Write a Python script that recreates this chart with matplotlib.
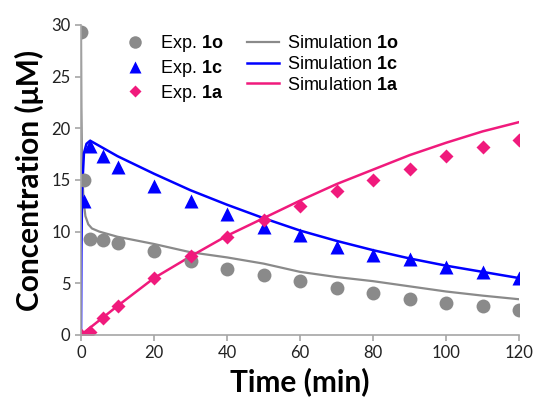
import numpy as np
import matplotlib.pyplot as plt

plt.rcParams['mathtext.fontset'] = 'custom'
plt.rcParams['mathtext.bf'] = 'Liberation Sans:bold'
plt.rcParams['mathtext.rm'] = 'Liberation Sans'

# experimental data
t_1o = [0, 0.7, 2.5, 6, 10, 20, 30, 40, 50, 60, 70, 80, 90, 100, 110, 120]
c_1o = [29.3, 15.0, 9.3, 9.2, 8.9, 8.1, 7.2, 6.4, 5.75, 5.2, 4.5, 4.1, 3.45, 3.1, 2.8, 2.4]

t_1c = [0, 0.7, 2.5, 6, 10, 20, 30, 40, 50, 60, 70, 80, 90, 100, 110, 120]
c_1c = [0, 13.0, 18.3, 17.3, 16.3, 14.4, 13.0, 11.7, 10.4, 9.7, 8.5, 7.7, 7.3, 6.6, 6.1, 5.5]

t_1a = [0, 2.5, 6, 10, 20, 30, 40, 50, 60, 70, 80, 90, 100, 110, 120]
c_1a = [0, 0.3, 1.6, 2.8, 5.5, 7.6, 9.5, 11.1, 12.5, 13.9, 15.0, 16.1, 17.3, 18.2, 18.9]

# simulation curves
ts_1o = [0, 0.1, 0.3, 0.7, 1.2, 2, 3, 5, 10, 20, 30, 40, 50, 60, 70, 80, 90, 100, 110, 120]
cs_1o = [29.3, 22, 16, 13, 11.5, 10.7, 10.3, 10.0, 9.5, 8.8, 8.0, 7.5, 6.9, 6.1, 5.6, 5.2, 4.7, 4.2, 3.8, 3.45]

ts_1c = [0, 0.1, 0.3, 0.8, 1.5, 2.5, 10, 20, 30, 40, 50, 60, 70, 80, 90, 100, 110, 120]
cs_1c = [0, 8, 14, 17.6, 18.5, 18.8, 17.3, 15.6, 14.0, 12.6, 11.3, 10.1, 9.1, 8.2, 7.4, 6.7, 6.1, 5.5]

ts_1a = [0, 10, 20, 30, 40, 50, 60, 70, 80, 90, 100, 110, 120]
cs_1a = [0, 2.8, 5.5, 7.6, 9.6, 11.3, 13.0, 14.6, 16.0, 17.4, 18.6, 19.7, 20.6]

gray = '#8a8a8a'
blue = '#0000ff'
pink = '#f01a7c'

fig = plt.figure(figsize=(5.33, 4.03), dpi=100)
ax = fig.add_axes([0.152, 0.169, 0.822, 0.769])

l1, = ax.plot(ts_1o, cs_1o, color=gray, lw=1.6, label=r'Simulation $\mathbf{1o}$')
l2, = ax.plot(ts_1c, cs_1c, color=blue, lw=1.8, label=r'Simulation $\mathbf{1c}$')
l3, = ax.plot(ts_1a, cs_1a, color=pink, lw=1.8, label=r'Simulation $\mathbf{1a}$')

p1, = ax.plot(t_1o, c_1o, 'o', color=gray, ms=10, mec='none', label=r'Exp. $\mathbf{1o}$')
p2, = ax.plot(t_1c, c_1c, '^', color=blue, ms=10, mec='none', label=r'Exp. $\mathbf{1c}$')
p3, = ax.plot(t_1a, c_1a, 'D', color=pink, ms=7, mec='none', label=r'Exp. $\mathbf{1a}$')

ax.set_xlim(0, 120)
ax.set_ylim(0, 30)
ax.set_xticks(range(0, 121, 20))
ax.set_yticks(range(0, 31, 5))
for s in ['top', 'right']:
    ax.spines[s].set_visible(False)
for s in ['left', 'bottom']:
    ax.spines[s].set_color('#a6a6a6')
    ax.spines[s].set_linewidth(1.2)
ax.tick_params(colors='#a6a6a6', length=4, width=1.2, labelcolor='#222222')
for lab in ax.get_xticklabels() + ax.get_yticklabels():
    lab.set_fontfamily('Lato')
    lab.set_fontsize(12)

ax.set_xlabel('Time (min)', fontsize=21.5, fontweight='bold', family='Lato', labelpad=4)
ax.set_ylabel('Concentration (μM)', fontsize=21.5, fontweight='bold', family='Lato', labelpad=5)

leg = ax.legend(handles=[p1, p2, p3, l1, l2, l3], ncol=2, frameon=False,
                loc='upper left', bbox_to_anchor=(0.05, 1.025),
                prop={'family': 'Liberation Sans', 'size': 13},
                handlelength=1.8, handletextpad=0.45, columnspacing=1.3,
                labelspacing=0.2, markerscale=0.9)

fig.savefig('out.png', dpi=100)
